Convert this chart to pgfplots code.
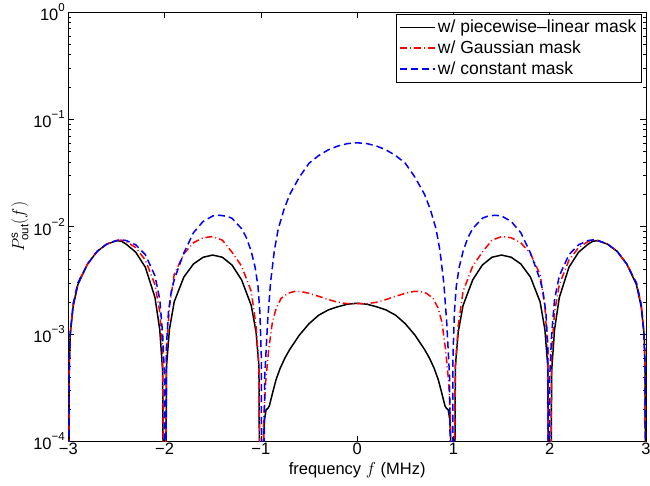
\documentclass[border=0pt]{standalone}
\usepackage{fontspec}
\setmainfont{Liberation Sans}
\usepackage{pgfplots}
\pgfplotsset{compat=1.18}
\newcommand\ex[1]{\raisebox{0.55em}{\fontsize{11.5}{11.5}\selectfont #1}}
\definecolor{mred}{rgb}{1,0,0}
\definecolor{mblue}{rgb}{0,0,1}
\begin{document}
\begin{tikzpicture}[font=\fontsize{16.5}{19}\selectfont]
\begin{axis}[
  scale only axis, width=577.7pt, height=429.5pt,
  xmin=-3, xmax=3, ymode=log, ymin=1e-4, ymax=1,
  xtick={-3,-2,-1,0,1,2,3}, xticklabels={−3,−2,−1,0,1,2,3},
  ytick={1e-4,1e-3,1e-2,1e-1,1},
  yticklabels={10\ex{−4},10\ex{−3},10\ex{−2},10\ex{−1},10\ex{0}},
  minor ytick={2e-4,3e-4,4e-4,5e-4,6e-4,7e-4,8e-4,9e-4,2e-3,3e-3,4e-3,5e-3,6e-3,7e-3,8e-3,9e-3,2e-2,3e-2,4e-2,5e-2,6e-2,7e-2,8e-2,9e-2,2e-1,3e-1,4e-1,5e-1,6e-1,7e-1,8e-1,9e-1},
  tick align=inside, major tick length=6pt, minor tick length=3pt,
  axis line style={line width=0.8pt},
  every tick/.style={black, line width=0.6pt},
  xticklabel style={yshift=2pt},
  xlabel={frequency $f$ (MHz)}, xlabel style={yshift=-1pt},
  ylabel={$P^{\mathrm{s}}_{\mathrm{out}}(f)$}, ylabel style={yshift=-2pt},
  legend cell align=left,
  legend image code/.code={\draw[#1] (0pt,0pt) -- (35pt,0pt);},
  legend style={at={(1,1)}, anchor=north east, xshift=-4.3pt, yshift=-2pt,
    draw=black, line width=0.6pt, inner xsep=3pt, inner ysep=4pt, row sep=2.5pt,
    font=\fontsize{17.5}{19}\selectfont},
]
\addplot[black, line width=1.5pt] coordinates {
(-3,1e-6) (-2.99,5e-4) (-2.98,1e-3) (-2.95,1.8e-3) (-2.9,2.9e-3) (-2.8,4.5e-3) (-2.7,5.9e-3) (-2.6,6.9e-3) (-2.5,7.4e-3) (-2.45,7.35e-3) (-2.4,6.9e-3) (-2.3,5.8e-3) (-2.2,4.2e-3) (-2.1,2.2e-3) (-2.05,1.1e-3) (-2.02,4.5e-4) (-2.005,1e-6)
(-1.995,1e-6) (-1.98,5e-4) (-1.95,1.1e-3) (-1.9,2.0e-3) (-1.8,3.4e-3) (-1.7,4.5e-3) (-1.6,5.2e-3) (-1.5,5.45e-3) (-1.4,5.2e-3) (-1.3,4.4e-3) (-1.2,3.2e-3) (-1.1,1.85e-3) (-1.05,1.05e-3) (-1.02,5e-4) (-1.005,1e-6)
(-0.976,1e-6) (-0.972,1.1e-4) (-0.962,1.6e-4) (-0.946,1.97e-4) (-0.925,2.05e-4) (-0.912,2.15e-4) (-0.88,2.8e-4) (-0.843,3.75e-4) (-0.8,4.8e-4) (-0.75,6.0e-4) (-0.7,7.2e-4) (-0.6,9.8e-4) (-0.5,1.25e-3) (-0.4,1.5e-3) (-0.3,1.68e-3) (-0.2,1.8e-3) (-0.1,1.9e-3) (0,1.94e-3)
(0.1,1.9e-3) (0.2,1.8e-3) (0.3,1.68e-3) (0.4,1.5e-3) (0.5,1.25e-3) (0.6,9.8e-4) (0.7,7.2e-4) (0.75,6.0e-4) (0.8,4.8e-4) (0.843,3.75e-4) (0.88,2.8e-4) (0.912,2.15e-4) (0.925,2.05e-4) (0.946,1.97e-4) (0.962,1.6e-4) (0.972,1.1e-4) (0.976,1e-6)
(1.005,1e-6) (1.02,5e-4) (1.05,1.05e-3) (1.1,1.85e-3) (1.2,3.2e-3) (1.3,4.4e-3) (1.4,5.2e-3) (1.5,5.45e-3) (1.6,5.2e-3) (1.7,4.5e-3) (1.8,3.4e-3) (1.9,2.0e-3) (1.95,1.1e-3) (1.98,5e-4) (1.995,1e-6)
(2.005,1e-6) (2.02,4.5e-4) (2.05,1.1e-3) (2.1,2.2e-3) (2.2,4.2e-3) (2.3,5.8e-3) (2.4,6.9e-3) (2.45,7.35e-3) (2.5,7.4e-3) (2.6,6.9e-3) (2.7,5.9e-3) (2.8,4.5e-3) (2.9,2.9e-3) (2.95,1.8e-3) (2.98,1e-3) (2.99,5e-4) (3,1e-6)
};
\addlegendentry{w/ piecewise–linear mask}
\addplot[mred, line width=1.5pt, dash pattern=on 7pt off 3pt on 1pt off 3pt] coordinates {
(-3,1e-6) (-2.99,5e-4) (-2.98,1e-3) (-2.95,1.9e-3) (-2.9,3.0e-3) (-2.8,4.5e-3) (-2.7,5.9e-3) (-2.6,6.9e-3) (-2.5,7.45e-3) (-2.45,7.5e-3) (-2.4,7.3e-3) (-2.3,6.4e-3) (-2.2,4.9e-3) (-2.1,2.9e-3) (-2.05,1.6e-3) (-2.02,7e-4) (-2.0,1e-6)
(-1.98,7e-4) (-1.95,1.8e-3) (-1.9,3.6e-3) (-1.8,5.6e-3) (-1.7,7.1e-3) (-1.6,7.9e-3) (-1.5,8.1e-3) (-1.4,7.5e-3) (-1.3,5.8e-3) (-1.2,4.3e-3) (-1.1,2.5e-3) (-1.05,1.2e-3) (-1.02,5e-4) (-0.99,1e-6)
(-0.985,1e-6) (-0.97,1.6e-4) (-0.95,3.6e-4) (-0.92,7e-4) (-0.88,1.3e-3) (-0.84,1.75e-3) (-0.79,2.15e-3) (-0.72,2.4e-3) (-0.65,2.5e-3) (-0.59,2.5e-3) (-0.5,2.4e-3) (-0.4,2.25e-3) (-0.3,2.1e-3) (-0.2,1.98e-3) (-0.1,1.92e-3) (0,1.92e-3)
(0.1,1.92e-3) (0.2,1.98e-3) (0.3,2.1e-3) (0.4,2.25e-3) (0.5,2.4e-3) (0.59,2.5e-3) (0.65,2.5e-3) (0.72,2.4e-3) (0.79,2.15e-3) (0.84,1.75e-3) (0.88,1.3e-3) (0.92,7e-4) (0.95,3.6e-4) (0.97,1.6e-4) (0.985,1e-6)
(0.99,1e-6) (1.02,5e-4) (1.05,1.2e-3) (1.1,2.5e-3) (1.2,4.3e-3) (1.3,5.8e-3) (1.4,7.5e-3) (1.5,8.1e-3) (1.6,7.9e-3) (1.7,7.1e-3) (1.8,5.6e-3) (1.9,3.6e-3) (1.95,1.8e-3) (1.98,7e-4)
(2.0,1e-6) (2.02,7e-4) (2.05,1.6e-3) (2.1,2.9e-3) (2.2,4.9e-3) (2.3,6.4e-3) (2.4,7.3e-3) (2.45,7.5e-3) (2.5,7.45e-3) (2.6,6.9e-3) (2.7,5.9e-3) (2.8,4.5e-3) (2.9,3.0e-3) (2.95,1.9e-3) (2.98,1e-3) (2.99,5e-4) (3,1e-6)
};
\addlegendentry{w/ Gaussian mask}
\addplot[mblue, line width=1.5pt, dash pattern=on 7pt off 4pt] coordinates {
(-3,1e-6) (-2.99,5e-4) (-2.98,1e-3) (-2.95,1.9e-3) (-2.9,3.0e-3) (-2.8,4.5e-3) (-2.7,5.9e-3) (-2.6,6.9e-3) (-2.5,7.45e-3) (-2.45,7.55e-3) (-2.4,7.45e-3) (-2.3,6.8e-3) (-2.2,5.5e-3) (-2.1,3.5e-3) (-2.05,2.1e-3) (-2.02,1.0e-3) (-2.0,4e-4) (-1.995,1e-6)
(-1.98,8e-4) (-1.96,1.6e-3) (-1.93,2.5e-3) (-1.9,3.2e-3) (-1.85,4.3e-3) (-1.8,5.7e-3) (-1.7,8.8e-3) (-1.6,1.12e-2) (-1.5,1.26e-2) (-1.43,1.28e-2) (-1.35,1.25e-2) (-1.3,1.2e-2) (-1.2,9.6e-3) (-1.15,7.9e-3) (-1.1,5.9e-3) (-1.06,4.2e-3) (-1.03,2.8e-3) (-1.01,1.6e-3) (-0.995,6e-4) (-0.988,1e-6)
(-0.982,1e-6) (-0.96,4e-4) (-0.93,1.3e-3) (-0.9,3.0e-3) (-0.86,6e-3) (-0.82,9.5e-3) (-0.76,1.45e-2) (-0.7,2.0e-2) (-0.6,2.9e-2) (-0.5,3.9e-2) (-0.4,4.6e-2) (-0.3,5.2e-2) (-0.2,5.65e-2) (-0.1,5.95e-2) (0,6.05e-2)
(0.1,5.95e-2) (0.2,5.65e-2) (0.3,5.2e-2) (0.4,4.6e-2) (0.5,3.9e-2) (0.6,2.9e-2) (0.7,2.0e-2) (0.76,1.45e-2) (0.82,9.5e-3) (0.86,6e-3) (0.9,3.0e-3) (0.93,1.3e-3) (0.96,4e-4) (0.982,1e-6)
(0.988,1e-6) (0.995,6e-4) (1.01,1.6e-3) (1.03,2.8e-3) (1.06,4.2e-3) (1.1,5.9e-3) (1.15,7.9e-3) (1.2,9.6e-3) (1.3,1.2e-2) (1.35,1.25e-2) (1.43,1.28e-2) (1.5,1.26e-2) (1.6,1.12e-2) (1.7,8.8e-3) (1.8,5.7e-3) (1.85,4.3e-3) (1.9,3.2e-3) (1.93,2.5e-3) (1.96,1.6e-3) (1.98,8e-4)
(1.995,1e-6) (2.0,4e-4) (2.02,1.0e-3) (2.05,2.1e-3) (2.1,3.5e-3) (2.2,5.5e-3) (2.3,6.8e-3) (2.4,7.45e-3) (2.45,7.55e-3) (2.5,7.45e-3) (2.6,6.9e-3) (2.7,5.9e-3) (2.8,4.5e-3) (2.9,3.0e-3) (2.95,1.9e-3) (2.98,1e-3) (2.99,5e-4) (3,1e-6)
};
\addlegendentry{w/ constant mask}
\end{axis}
\pgfresetboundingbox
\path[use as bounding box] ([xshift=-68.3pt,yshift=-44.5pt]current axis.south west) rectangle ([xshift=4pt,yshift=12pt]current axis.north east);
\end{tikzpicture}
\end{document}
